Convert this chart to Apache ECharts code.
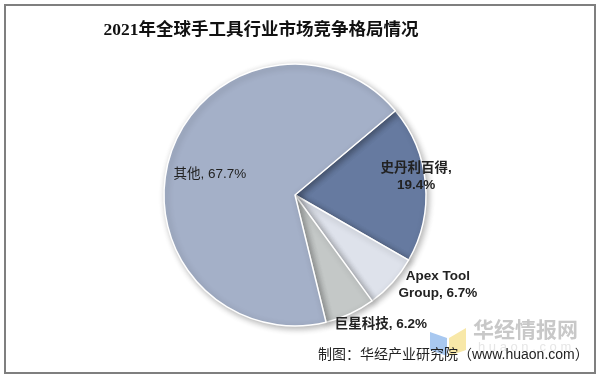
<!DOCTYPE html>
<html>
<head>
<meta charset="utf-8">
<script src="https://cdn.jsdelivr.net/npm/echarts@6/dist/echarts.min.js"></script>
<style>
  html, body { margin: 0; padding: 0; background: #fff; }
  #main { width: 600px; height: 378px; }
</style>
</head>
<body>
<div id="main"></div>
<script>
// 数据：顺时针从右上方开始
const categories = ['史丹利百得', 'Apex Tool Group', '巨星科技', '其他'];
const shares = [19.4, 6.7, 6.2, 67.7];
const sliceColors = ['#667aa0', '#dee2eb', '#c4c8c7', '#a4b0c8'];

// 标签偏移（相对于扇区内部默认位置）
const labelShift = [[53, -12], [92, 44], [57, 67], [-20, 1]];

const chart = echarts.init(document.getElementById('main'));

function labelText(p) {
  const v = p.value.toFixed(1) + '%';
  if (p.dataIndex === 0) return p.name + ',\n' + v;
  if (p.dataIndex === 1) return 'Apex Tool\nGroup, ' + v;
  return p.name + ', ' + v;
}

const option = {
  backgroundColor: '#fff',
  animation: false,
  title: {
    text: '2021年全球手工具行业市场竞争格局情况',
    left: 256,
    top: 17,
    textAlign: 'center',
    textStyle: {
      fontFamily: '"Liberation Serif", "Noto Sans CJK SC", serif',
      fontSize: 17.5,
      fontWeight: 'bold',
      color: '#111'
    }
  },
  series: [{
    type: 'pie',
    center: [295, 195],
    radius: 131,
    startAngle: 40,
    clockwise: true,
    data: categories.map((name, i) => ({
      name: name,
      value: shares[i],
      itemStyle: { color: sliceColors[i] },
      label: { fontWeight: i === 3 ? 'normal' : 'bold' }
    })),
    itemStyle: {
      borderColor: '#fff',
      borderWidth: 1.5,
      shadowBlur: 6,
      shadowOffsetX: 2,
      shadowOffsetY: 2,
      shadowColor: 'rgba(0,0,0,0.3)'
    },
    label: {
      show: true,
      position: 'inside',
      formatter: labelText,
      color: '#222',
      fontSize: 13.5,
      lineHeight: 17,
      align: 'center',
      fontFamily: '"Liberation Sans", "Noto Sans CJK SC", sans-serif'
    },
    labelLine: { show: false },
    labelLayout: function (params) {
      const s = labelShift[params.dataIndex];
      return { dx: s[0], dy: s[1] };
    },
    emphasis: { disabled: true }
  }],
  graphic: [
    {
      type: 'rect',
      shape: { x: 5, y: 5, width: 590, height: 368 },
      style: { fill: 'none', stroke: '#7f7f7f', lineWidth: 2 },
      z: 100
    },
    {
      type: 'polygon',
      shape: { points: [[430, 332], [447, 338], [447, 356], [430, 350]] },
      style: { fill: '#a8c8f0' },
      z: 1
    },
    {
      type: 'polygon',
      shape: { points: [[449, 338], [466, 328], [466, 350], [449, 356]] },
      style: { fill: '#f8e8a8' },
      z: 1
    },
    {
      type: 'text',
      left: 473,
      top: 319,
      style: {
        text: '华经情报网',
        fill: '#c8c8c8',
        font: 'bold 21px "Noto Sans CJK SC", sans-serif'
      },
      z: 1
    },
    {
      type: 'text',
      left: 478,
      top: 341,
      style: {
        text: 'h u a o n . c o m',
        fill: '#e6e6e6',
        font: '13px "Liberation Sans", sans-serif'
      },
      z: 1
    },
    {
      type: 'text',
      left: 318,
      top: 348,
      style: {
        text: '制图：华经产业研究院（www.huaon.com）',
        fill: '#222',
        font: '14px "Liberation Sans", "Noto Sans CJK SC", sans-serif'
      },
      z: 2
    }
  ]
};

chart.setOption(option);
</script>
</body>
</html>
